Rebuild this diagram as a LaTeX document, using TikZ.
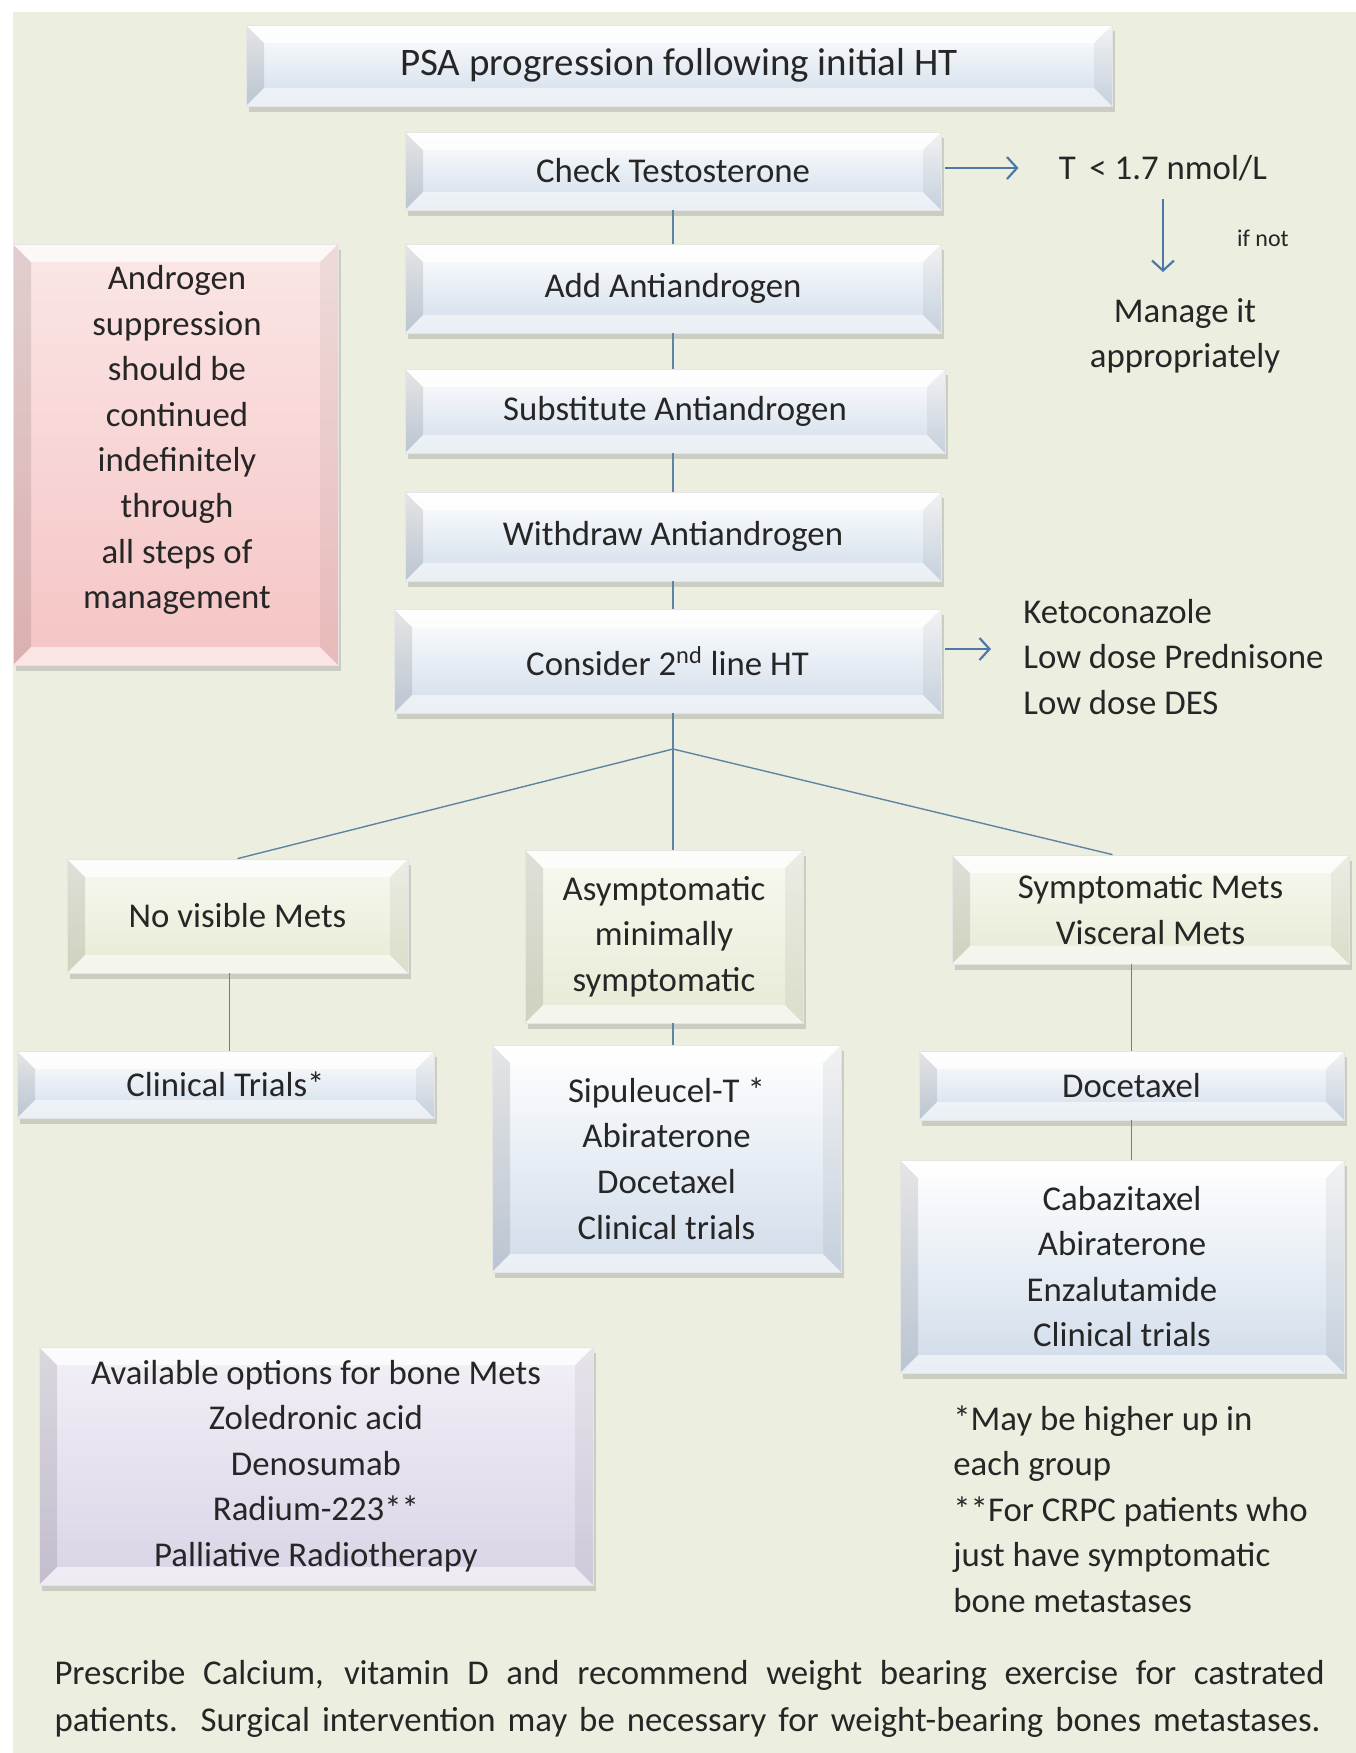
\documentclass[tikz,border=0pt]{standalone}
\usepackage{fontspec}
\setmainfont{Carlito}
\usetikzlibrary{shadows,arrows.meta,calc}
\definecolor{bgc}{HTML}{ECEFE0}
\definecolor{bluelo}{HTML}{D0DCEA}
\definecolor{pinklo}{HTML}{F5C4C4}
\definecolor{pinkhi}{HTML}{FBE6E6}
\definecolor{greenlo}{HTML}{E7EAD5}
\definecolor{greenhi}{HTML}{F8F9F0}
\definecolor{lavlo}{HTML}{DAD3E6}
\definecolor{lavhi}{HTML}{F3F0F7}
\definecolor{linec}{HTML}{5F83A3}
\definecolor{arrc}{HTML}{4E78A8}
\definecolor{txt}{HTML}{262626}
\tikzset{
  bevel/.style={path picture={
    \path (path picture bounding box.north west) coordinate (pNW)
          (path picture bounding box.north east) coordinate (pNE)
          (path picture bounding box.south west) coordinate (pSW)
          (path picture bounding box.south east) coordinate (pSE);
    \fill[white, opacity=0.75] (pNW) -- (pNE) -- ([xshift=-#1,yshift=-#1]pNE) -- ([xshift=#1,yshift=-#1]pNW) -- cycle;
    \fill[black, opacity=0.10] (pNW) -- ([xshift=#1,yshift=-#1]pNW) -- ([xshift=#1,yshift=#1]pSW) -- (pSW) -- cycle;
    \fill[black, opacity=0.05] (pNE) -- ([xshift=-#1,yshift=-#1]pNE) -- ([xshift=-#1,yshift=#1]pSE) -- (pSE) -- cycle;
    \fill[white, opacity=0.55] (pSW) -- ([xshift=#1,yshift=#1]pSW) -- ([xshift=-#1,yshift=#1]pSE) -- (pSE) -- cycle;
  }},
}
\begin{document}
\begin{tikzpicture}[x=0.5pt,y=-0.5pt,
  every node/.style={text=txt, font=\fontsize{17.4}{22.8}\selectfont},
  box/.style={rectangle, draw=black!10, line width=0.4pt, inner sep=0pt, align=center,
    drop shadow={opacity=0.3, shadow xshift=1.5pt, shadow yshift=-3pt}, bevel=9pt},
  bluebox/.style={box, top color=white, bottom color=bluelo},
  pinkbox/.style={box, top color=pinkhi, bottom color=pinklo},
  greenbox/.style={box, top color=greenhi, bottom color=greenlo},
  lavbox/.style={box, top color=lavhi, bottom color=lavlo},
  conn/.style={draw=linec, line width=0.7pt},
  arr/.style={draw=arrc, line width=1.1pt, -{Straight Barb[length=5pt,width=11pt]}},
  plain/.style={align=left, inner sep=0pt}
]
\useasboundingbox (0,0) rectangle (1356,1753);
\fill[bgc] (13,12) rectangle (1356,1753);

% main chain
\node[bluebox, minimum width=433pt, minimum height=40.5pt, font=\fontsize{19.5}{23}\selectfont] (top) at (679,65.5) {PSA progression following initial HT};
\node[bluebox, minimum width=268pt, minimum height=39pt] (check) at (673,171) {Check Testosterone};
\node[bluebox, minimum width=268pt, minimum height=44.5pt] (add) at (673,288.5) {Add Antiandrogen};
\node[bluebox, minimum width=270pt, minimum height=42pt] (subst) at (675,411) {Substitute Antiandrogen};
\node[bluebox, minimum width=268pt, minimum height=44.5pt] (withdraw) at (673,536.5) {Withdraw Antiandrogen};
\node[bluebox, minimum width=273.5pt, minimum height=52pt] (consider) at (667.5,661) {Consider 2\textsuperscript{nd} line HT};

% side box
\node[pinkbox, minimum width=162.5pt, minimum height=210.5pt] (pink) at (175.5,454.5) {};
\node[plain, align=center] (pinktxt) at (177,440)
  {Androgen\\suppression\\should be\\continued\\indefinitely\\through\\all steps of\\management};

% testosterone check
\node[plain] (tval) at (1163,168) {T \,< 1.7 nmol/L};
\node[plain, align=center] (manage) at (1185,336) {Manage it\\appropriately};
\node[plain, font=\fontsize{12}{14}\selectfont] (ifnot) at (1263,238) {if not};

% second line list
\node[plain, anchor=west] (keto) at (1023,657) {Ketoconazole\\Low dose Prednisone\\Low dose DES};

% branches
\node[greenbox, minimum width=170.5pt, minimum height=57pt] (novis) at (237.5,916) {No visible Mets};
\node[greenbox, minimum width=139pt, minimum height=86.5pt] (asym) at (664,936.5) {Asymptomatic\\minimally\\symptomatic};
\node[greenbox, minimum width=198.5pt, minimum height=54.5pt] (sympt) at (1150.5,909.5) {Symptomatic Mets\\Visceral Mets};

\node[bluebox, minimum width=208.5pt, minimum height=33.5pt] (clin) at (225.5,1084.5) {Clinical Trials*};
\node[bluebox, minimum width=174.5pt, minimum height=113.5pt] (sip) at (666.5,1158.5) {Sipuleucel-T *\\Abiraterone\\Docetaxel\\Clinical trials};
\node[bluebox, minimum width=212.5pt, minimum height=34.5pt] (doce) at (1131.5,1085.5) {Docetaxel};
\node[bluebox, minimum width=222pt, minimum height=106.5pt] (cabaz) at (1122,1266.5) {Cabazitaxel\\Abiraterone\\Enzalutamide\\Clinical trials};

\node[lavbox, minimum width=277pt, minimum height=119pt] (bone) at (316,1466) {Available options for bone Mets\\Zoledronic acid\\Denosumab\\Radium-223**\\Palliative Radiotherapy};

\node[plain, anchor=west] (notes) at (953,1509) {*May be higher up in\\each group\\**For CRPC patients who\\just have symptomatic\\bone metastases};

\node[plain] (b1) at (689.5,1675) {\makebox[635pt][s]{Prescribe Calcium, vitamin D and recommend weight bearing exercise for castrated}};
\node[plain] (b2) at (687.5,1722) {\makebox[633pt][s]{patients. Surgical intervention may be necessary for weight-bearing bones metastases.}};

% connectors
\draw[conn] (check.south) -- (add.north);
\draw[conn] (add.south) -- (add.south |- subst.north);
\draw[conn] (add.south |- subst.south) -- (withdraw.north);
\draw[conn] (withdraw.south) -- (withdraw.south |- consider.north);
\coordinate (j) at (673,749);
\draw[conn] (withdraw.south |- consider.south) -- (j);
\draw[conn] (j) -- (novis.north);
\draw[conn] (j) -- (j |- asym.north);
\draw[conn] (j) -- ($(sympt.north)+(-38,0)$);
\draw[conn] ($(novis.south)+(-8,0)$) -- ($(novis.south |- clin.north)+(-8,0)$);
\draw[conn] (j |- asym.south) -- (j |- sip.north);
\draw[conn] (doce.north |- sympt.south) -- (doce.north);
\draw[conn] (doce.south) -- (doce.south |- cabaz.north);

\coordinate (ka) at ([yshift=6pt]consider.east);
\draw[arr, shorten <=2pt, shorten >=20pt] (check.east |- tval) -- (tval.west);
\draw[arr, shorten <=9pt, shorten >=13pt] (tval.south) -- (tval.south |- manage.north);
\draw[arr, shorten <=2pt, shorten >=16pt] (ka) -- (keto.west |- ka);
\end{tikzpicture}
\end{document}
